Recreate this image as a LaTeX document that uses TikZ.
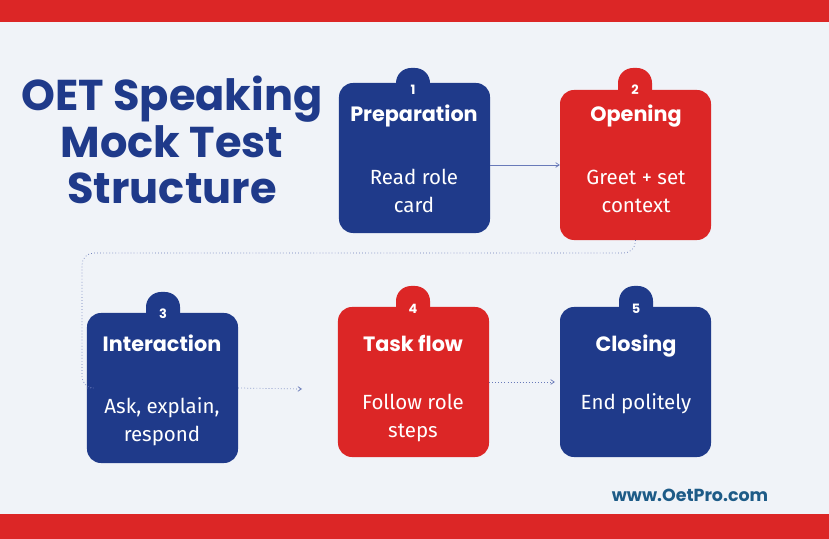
\documentclass[tikz,border=0pt]{standalone}
\usepackage{fontspec}
\setmainfont{Fira Sans}
\newfontfamily\headfont{Poppins}
\usetikzlibrary{positioning,arrows.meta}
\definecolor{navy}{RGB}{31,58,138}
\definecolor{alert}{RGB}{220,38,38}
\definecolor{paper}{RGB}{240,243,248}
\definecolor{linkblue}{RGB}{29,91,135}
\definecolor{wire}{RGB}{105,122,185}

\tikzset{
  card/.style={rounded corners=0.42cm, minimum width=4.53cm, minimum height=4.5cm, inner sep=0pt},
  tab/.style={rounded corners=0.45cm, minimum width=1.02cm, minimum height=1.2cm, inner sep=0pt},
  num/.style={text=white, font=\headfont\bfseries\fontsize{11}{13}\selectfont},
  head/.style={text=white, anchor=base, font=\headfont\bfseries\fontsize{17.7}{21}\selectfont},
  body/.style={text=white, align=center, font=\fontsize{17.5}{24}\selectfont},
  flow/.style={wire, line width=0.6pt, -{Straight Barb[length=3pt,width=4pt]}}
}

\begin{document}
\begin{tikzpicture}[x=0.03cm, y=-0.03cm]
    % page
    \fill[paper] (0,0) rectangle (829,539);
    \fill[alert] (0,0) rectangle (829,22);
    \fill[alert] (0,514) rectangle (829,539);

    % title
    \node[text=navy, align=center, font=\headfont\bfseries\fontsize{36.8}{40}\selectfont] (title) at (172,140)
        {OET Speaking\\Mock Test\\Structure};

    % badges
    \node[tab, fill=navy] (t1) at (413,88) {};
    \node[tab, fill=alert] (t2) at (635,88) {};
    \node[tab, fill=navy] (t3) at (163,312) {};
    \node[tab, fill=alert] (t4) at (413,306) {};
    \node[tab, fill=navy] (t5) at (636,306) {};

    % cards
    \node[card, fill=navy] (prep) at (414.5,158) {};
    \node[card, fill=alert] (open) at (635.5,165) {};
    \node[card, fill=navy] (inter) at (162.5,388) {};
    \node[card, fill=alert] (task) at (413.5,382) {};
    \node[card, fill=navy] (clos) at (635.5,382) {};

    \node[num] at (t1) [yshift=-0.06cm] {1};
    \node[num] at (t2) [yshift=-0.06cm] {2};
    \node[num] at (t3) [yshift=-0.06cm] {3};
    \node[num] at (t4) [yshift=-0.09cm] {4};
    \node[num] at (t5) [yshift=-0.09cm] {5};

    % texts
    \node[head] (h1) at (414,122) {Preparation};
    \node[body] (b1) at (414,191) {Read role\\card};
    \node[head] (h2) at (636,122) {Opening};
    \node[body] (b2) at (636,191) {Greet + set\\context};
    \node[head] (h3) at (162,352) {Interaction};
    \node[body] (b3) at (162,422) {Ask, explain,\\respond};
    \node[head] (h4) at (413,352) {Task flow};
    \node[body] (b4) at (413,418) {Follow role\\steps};
    \node[head] (h5) at (636,352) {Closing};
    \node[body] (b5) at (636,404) {End politely};

    % connectors
    \coordinate (turn) at (82,253);
    \coordinate (gap) at (302,389);
    \draw[flow] (prep.east |- open.west) -- (open.west);
    \draw[wire, line width=0.6pt, dotted, rounded corners=0.35cm] (open.south) |- (turn) |- (inter.west);
    \draw[flow, dotted] (inter.east) -- (gap);
    \draw[flow, dotted] (task.east) -- ([xshift=-0.15cm]clos.west);

    % footer
    \node[text=linkblue, font=\headfont\bfseries\fontsize{14.9}{17}\selectfont] (url) at (690,495) {www.OetPro.com};
\end{tikzpicture}
\end{document}
